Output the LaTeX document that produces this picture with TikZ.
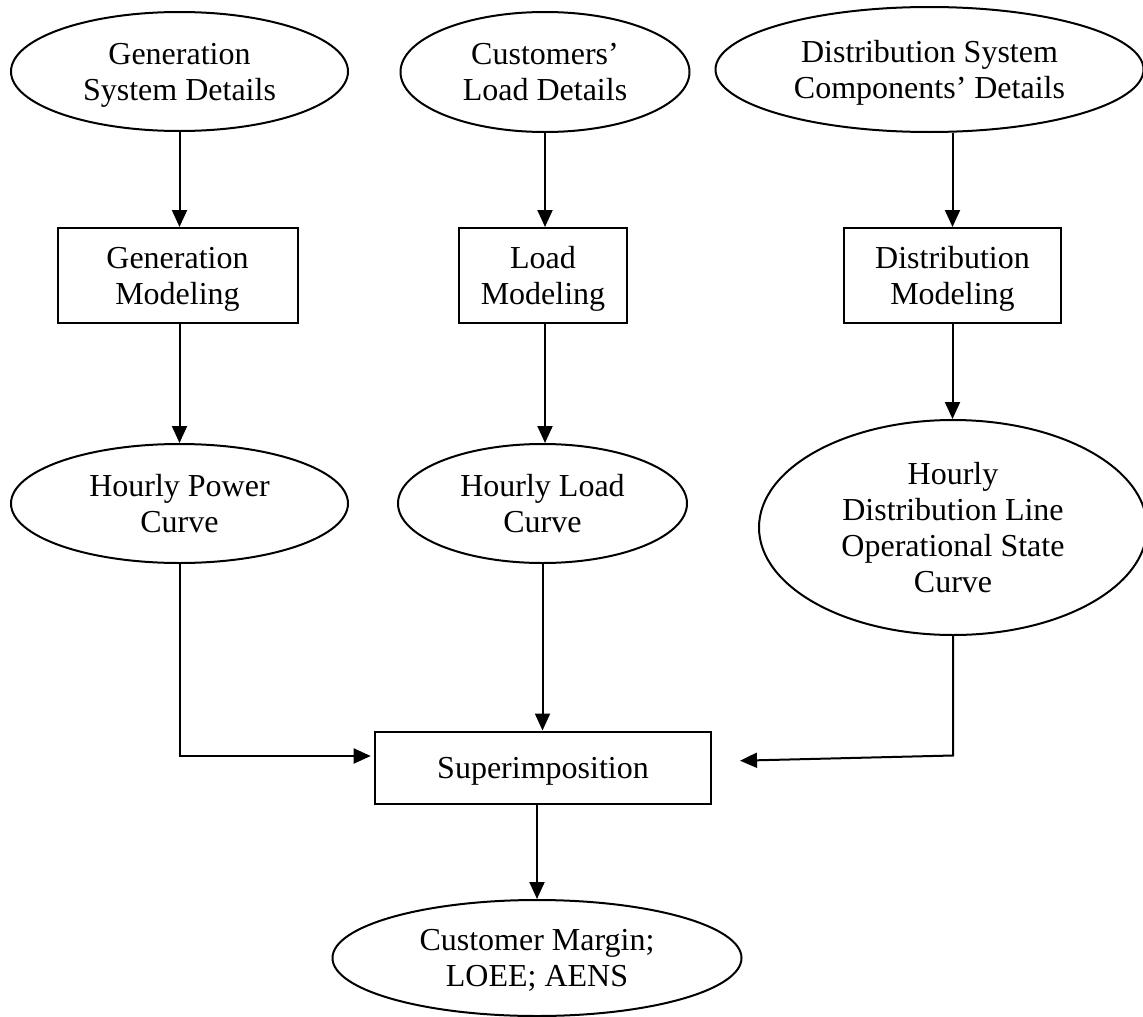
\documentclass[tikz,border=0pt]{standalone}
\usepackage{fontspec}
\setmainfont{Liberation Serif}
\usetikzlibrary{shapes.geometric,arrows.meta}
\tikzset{
  lbl/.style={font=\fontsize{32}{36}\selectfont, align=center, inner sep=0pt, text depth=0pt, line width=2pt, draw=black},
  oval/.style={lbl, ellipse},
  boxed/.style={lbl, rectangle},
  arr/.style={line width=2pt, -{Triangle[length=17pt,width=15pt]}}
}
\begin{document}
\begin{tikzpicture}[x=1pt,y=-1pt]
\useasboundingbox (0,0) rectangle (1143,1017);
% top row
\node[oval, minimum width=337pt, minimum height=119pt] (e1) at (179.5,71.5) {Generation\\System Details};
\node[oval, minimum width=289pt, minimum height=120pt] (e2) at (545,72) {Customers’\\Load Details};
\node[oval, minimum width=428pt, minimum height=125pt] (e3) at (929.5,69.5) {Distribution System\\Components’ Details};
% modeling boxes
\node[boxed, minimum width=240pt, minimum height=95pt] (b1) at (177.5,275.5) {Generation\\Modeling};
\node[boxed, minimum width=168pt, minimum height=95pt] (b2) at (543,275.5) {Load\\Modeling};
\node[boxed, minimum width=217pt, minimum height=95pt] (b3) at (952.5,275.5) {Distribution\\Modeling};
% curves
\node[oval, minimum width=337pt, minimum height=119pt] (e4) at (179.5,503.5) {Hourly Power\\Curve};
\node[oval, minimum width=289pt, minimum height=119pt] (e5) at (542.5,503.5) {Hourly Load\\Curve};
\node[oval, minimum width=388pt, minimum height=215pt] (e6) at (953,527.5) {Hourly\\Distribution Line\\Operational State\\Curve};
% superimposition and result
\node[boxed, minimum width=336pt, minimum height=72pt] (b4) at (543,767.5) {Superimposition};
\node[oval, minimum width=409pt, minimum height=116pt] (e7) at (537,958) {Customer Margin;\\LOEE; AENS};
% connectors
\draw[arr] (e1.south) -- (e1.south |- b1.north);
\draw[arr] (e2.south) -- (e2.south |- b2.north);
\draw[arr] (b3.north |- e3.south) -- (b3.north);
\draw[arr] (b1.south -| e4.north) -- (e4.north);
\draw[arr] (b2.south -| e2.south) -- (e2.south |- e5.north);
\draw[arr] (b3.south) -- (b3.south |- e6.north);
\coordinate (c4) at (370.7,756);
\draw[arr] (e4.south) |- (c4);
\draw[arr] (e5.south) -- (e5.south |- b4.north);
\coordinate (c6) at (740,760.7);
\draw[arr] (e6.south) -- ++(0,119.5) -- (c6);
\draw[arr] (e7.north |- b4.south) -- (e7.north);
\end{tikzpicture}
\end{document}
